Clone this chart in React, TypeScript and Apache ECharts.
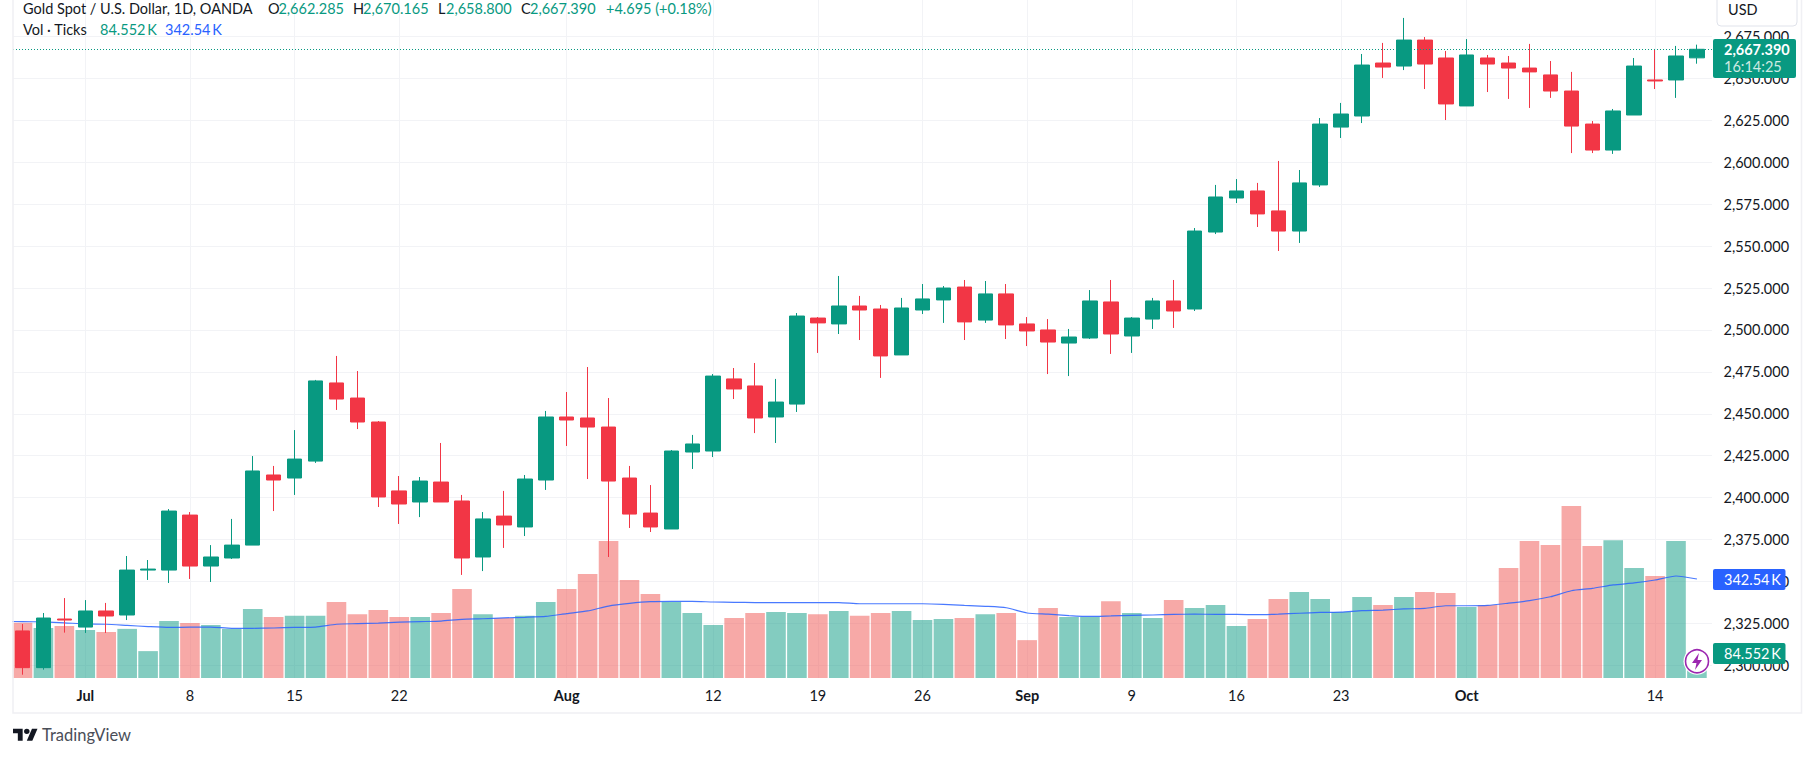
import { useEffect, useRef } from "react";
import * as echarts from "echarts";

const opens = [
  2320.5, 2298.6, 2327.6, 2322.8, 2332.4, 2330, 2356.8, 2356.8, 2389.6, 2359.2, 2364, 2371.7, 2413.5, 2411.7, 2421.8, 2468.4, 2459.4,
  2445.1, 2404, 2397.4, 2409.3, 2398, 2364.6, 2389, 2382.5, 2410.5, 2448.1, 2447.5, 2442.1, 2411.7, 2390.8, 2381.3, 2427.2, 2427.8,
  2470.8, 2466.6, 2448.1, 2455.8, 2507.1, 2503.6, 2514.3, 2512.5, 2485.1, 2511.9, 2517.9, 2525.6, 2505.9, 2521.5, 2503.6, 2500, 2492.2,
  2495.2, 2516.7, 2496.4, 2506.5, 2517.3, 2512.5, 2558.4, 2578.7, 2582.9, 2571, 2559, 2586.5, 2621, 2627.6, 2659.2, 2657.4, 2672.9,
  2662.2, 2633.6, 2662.2, 2659.2, 2656.2, 2652.1, 2642.5, 2622.8, 2607.3, 2628.2, 2649.1, 2649.1, 2662.285,
];
const closes = [
  2298.6, 2328.2, 2327, 2332.4, 2329.4, 2356.8, 2357.4, 2392, 2359.2, 2364.6, 2371.7, 2415.9, 2410.5, 2423, 2469.6, 2458.8, 2445.1,
  2400.4, 2396.2, 2409.9, 2397.4, 2364, 2387.3, 2383.7, 2411.1, 2448.1, 2446.3, 2442.1, 2409.9, 2390.2, 2382.5, 2427.8, 2432, 2472.5,
  2464.8, 2447.5, 2457, 2508.3, 2504.2, 2514.3, 2511.9, 2484.5, 2513.1, 2518.5, 2525, 2504.8, 2521.5, 2503, 2499.4, 2492.8, 2495.8,
  2517.3, 2497.6, 2507.1, 2517.3, 2511.3, 2559, 2579.3, 2582.9, 2569.2, 2559, 2587.7, 2622.8, 2628.8, 2658, 2656.8, 2672.9, 2658.6,
  2634.8, 2664, 2658.6, 2656.2, 2653.9, 2642.5, 2621.6, 2607.3, 2630.6, 2657.4, 2648.5, 2663.4, 2667.39,
];
const highs = [
  2324.6, 2331.2, 2340.1, 2338.9, 2337.2, 2365.2, 2362.8, 2393.2, 2391.4, 2371.7, 2387.3, 2424.8, 2418.9, 2440.3, 2470.2, 2484.5, 2475.5,
  2445.7, 2412.9, 2412.3, 2432.6, 2401.6, 2391.4, 2404, 2413.5, 2451.7, 2463, 2477.9, 2459.4, 2418.9, 2407.5, 2428.4, 2437.4, 2473.7,
  2477.3, 2480.3, 2470.8, 2510.1, 2507.7, 2532.2, 2520.3, 2514.9, 2519.1, 2527.4, 2526.2, 2529.8, 2529.2, 2527.4, 2507.7, 2506.5, 2500.6,
  2523.8, 2529.8, 2507.7, 2519.1, 2529.8, 2560.8, 2586.5, 2590, 2587.7, 2600.8, 2595.4, 2626.4, 2635.4, 2664.6, 2671.2, 2686.1, 2674.7,
  2666.4, 2673.5, 2664, 2663.4, 2670.6, 2660.4, 2653.9, 2624.6, 2631.8, 2662.2, 2667.6, 2669.4, 2670.165,
];
const lows = [
  2294.4, 2297.4, 2319.5, 2319.3, 2319.3, 2327, 2350.9, 2349.1, 2351.5, 2349.7, 2363.4, 2371.7, 2392, 2401.6, 2420.7, 2452.3, 2440.9,
  2394.4, 2384.3, 2388.4, 2397.4, 2353.9, 2356.2, 2370, 2377.1, 2404.6, 2430.8, 2411.1, 2364.6, 2381.9, 2379.5, 2381.3, 2417.1, 2424.2,
  2458.8, 2438.5, 2432.6, 2451.1, 2486.3, 2497.6, 2494, 2471.4, 2485.1, 2509.5, 2504.2, 2494, 2504.2, 2494.6, 2490.4, 2473.7, 2472.5,
  2494.6, 2485.7, 2486.3, 2500.6, 2501.2, 2511.3, 2557.2, 2575.7, 2561.4, 2547.1, 2551.9, 2585.3, 2614.5, 2623.4, 2650.3, 2655, 2643.7,
  2625.2, 2633.6, 2641.9, 2637.8, 2632.4, 2638.4, 2605.5, 2605.5, 2605, 2628.2, 2643.7, 2638.4, 2658.8,
];
const volumes = [
  191, 173, 180, 166, 159, 170, 93, 197, 190, 183, 170, 239, 211, 215, 215, 263, 221, 235, 211, 211, 225, 308, 221, 208, 215, 263, 308,
  360, 474, 339, 291, 263, 225, 183, 208, 225, 228, 225, 221, 232, 215, 225, 232, 201, 204, 208, 221, 225, 131, 242, 211, 211, 266, 225,
  208, 270, 242, 253, 180, 204, 273, 298, 273, 228, 280, 253, 280, 298, 294, 246, 253, 381, 474, 460, 595, 457, 477, 381, 353, 474, 84.552,
];
const volumeMa = [
  195, 194, 191, 187, 186, 182, 178, 175, 176, 176, 172, 172, 173, 175, 176, 186, 188, 190, 193, 195, 197, 203, 205, 208, 210, 213, 223,
  232, 249, 258, 264, 265, 265, 263, 262, 261, 261, 261, 261, 261, 257, 257, 257, 257, 255, 251, 248, 243, 225, 221, 216, 213, 215, 217,
  218, 220, 221, 220, 220, 219, 221, 224, 227, 228, 233, 235, 239, 241, 250, 250, 251, 259, 268, 281, 302, 310, 322, 329, 339, 353, 342.54,
];
// the average runs on from the bar before the first visible one
const volumeMaBefore = 196;
const priceTicks = [2300, 2325, 2350, 2375, 2400, 2425, 2450, 2475, 2500, 2525, 2550, 2575, 2600, 2625, 2650, 2675];
const dateTickIndexes = [3, 8, 13, 18, 26, 33, 38, 43, 48, 53, 58, 63, 69, 78];
const dateTickLabels = ["Jul", "8", "15", "22", "Aug", "12", "19", "26", "Sep", "9", "16", "23", "Oct", "14"];
const monthLabels = ["Jul", "Aug", "Sep", "Oct"];
const lastPrice = 2667.39;

const UP = "#089981";
const DOWN = "#f23645";
const UP_VOLUME = "rgba(8, 153, 129, 0.5)";
const DOWN_VOLUME = "rgba(239, 83, 80, 0.5)";
const BLUE = "#2962ff";
const INK = "#131722";
const GRID_LINE = "#f2f3f6";
const FRAME = "#f0f0f4";
const FONT = "Lato, 'Open Sans', sans-serif";
const FONT_SIZE = 14.5;

const LOGO_PATH =
  "M14 22H7V11H0V4h14v18zM28 22h-8l7.5-18h8L28 22zM24 8a4 4 0 1 1-8 0 4 4 0 0 1 8 0z";
const BOLT_PATH = "M7 0L0 10h4.5L3 17l7-10H5.5L7 0z";
echarts.graphic.registerShape("tvLogo", echarts.graphic.extendPath(LOGO_PATH, {}));
echarts.graphic.registerShape("bolt", echarts.graphic.extendPath(BOLT_PATH, {}));

function formatPrice(value: number): string {
  return value.toFixed(3).replace(/\B(?=(\d{3})(?!\d))/g, ",");
}

function label(text: string, x: number, y: number, fill: string, font: string = `${FONT_SIZE}px ${FONT}`) {
  return {
    type: "text",
    x,
    y,
    z: 110,
    style: { text, fill, font, textVerticalAlign: "middle" },
  };
}

function tag(x: number, y: number, width: number, height: number, fill: string) {
  return { type: "rect", z: 105, shape: { x, y, width, height, r: 2 }, style: { fill } };
}

export default function App() {
  const containerRef = useRef<HTMLDivElement | null>(null);

  useEffect(() => {
    if (!containerRef.current) {
      return;
    }

    const chart = echarts.init(containerRef.current, undefined, { renderer: "svg" });

    const option: echarts.EChartsOption = {
      animation: false,
      backgroundColor: "#ffffff",
      textStyle: { fontFamily: FONT },
      grid: { left: 13, top: 0, width: 1699, height: 678 },
      xAxis: {
        type: "value",
        min: -0.454,
        max: 80.72,
        axisLine: { show: false },
        axisTick: { show: false, customValues: dateTickIndexes },
        splitLine: { show: true, lineStyle: { color: GRID_LINE, width: 1 } },
        axisLabel: {
          customValues: dateTickIndexes,
          margin: 10,
          color: INK,
          fontSize: FONT_SIZE,
          fontFamily: FONT,
          formatter: (value: number) => {
            const text = dateTickLabels[dateTickIndexes.indexOf(value)];
            return monthLabels.includes(text) ? `{month|${text}}` : text;
          },
          rich: { month: { fontWeight: 700, fontSize: FONT_SIZE, fontFamily: FONT, color: INK } },
        },
      },
      yAxis: [
        {
          type: "value",
          position: "right",
          min: 2292.43,
          max: 2696.79,
          axisLine: { show: false },
          axisTick: { show: false, customValues: priceTicks },
          splitLine: { show: true, lineStyle: { color: GRID_LINE, width: 1 } },
          axisLabel: {
            customValues: priceTicks,
            margin: 11.5,
            color: INK,
            fontSize: FONT_SIZE,
            fontFamily: FONT,
            padding: [0, 0, 2, 0],
            formatter: (value: number) => formatPrice(value),
          },
        },
        { type: "value", min: 0, max: 2346, show: false, splitLine: { show: false } },
      ],
      series: [
        {
          name: "Vol",
          type: "bar",
          yAxisIndex: 1,
          z: 1,
          barWidth: 19.6,
          data: volumes.map((volume, index) => ({
            value: [index, volume],
            itemStyle: { color: closes[index] >= opens[index] ? UP_VOLUME : DOWN_VOLUME },
          })),
        },
        {
          name: "Volume MA",
          type: "line",
          yAxisIndex: 1,
          z: 2,
          smooth: 0.2,
          showSymbol: false,
          lineStyle: { color: BLUE, width: 1.2, opacity: 0.85 },
          data: [[-1, volumeMaBefore], ...volumeMa.map((value, index) => [index, value])],
        },
        {
          name: "XAUUSD",
          type: "candlestick",
          z: 3,
          barWidth: 15,
          itemStyle: { color: UP, color0: DOWN, borderColor: UP, borderColor0: DOWN, borderWidth: 1 },
          data: opens.map((open, index) => [index, open, closes[index], lows[index], highs[index]]),
          markLine: {
            silent: true,
            symbol: "none",
            label: { show: false },
            lineStyle: { color: UP, type: [1, 2], width: 1 },
            data: [{ yAxis: lastPrice }],
          },
        },
      ],
      graphic: [
        {
          type: "rect",
          z: 100,
          shape: { x: 13, y: -6, width: 1788.5, height: 719 },
          style: { fill: "none", stroke: FRAME, lineWidth: 1.6 },
        },
        label("Gold Spot / U.S. Dollar, 1D, OANDA", 23, 8, INK),
        label("O", 268, 8, INK),
        label("2,662.285", 278.4, 8, UP),
        label("H", 353, 8, INK),
        label("2,670.165", 363, 8, UP),
        label("L", 438, 8, INK),
        label("2,658.800", 446, 8, UP),
        label("C", 521, 8, INK),
        label("2,667.390", 530, 8, UP),
        label("+4.695 (+0.18%)", 606, 8, UP),
        label("Vol · Ticks", 23, 29, INK),
        label("84.552\u2009K", 100, 29, UP),
        label("342.54\u2009K", 165, 29, BLUE),

        {
          type: "rect",
          z: 105,
          shape: { x: 1717, y: -6, width: 80, height: 32, r: 4 },
          style: { fill: "#ffffff", stroke: "#e0e3eb", lineWidth: 1 },
        },
        label("USD", 1728, 9.5, INK),

        tag(1713, 39, 83, 39, UP),
        label("2,667.390", 1724, 49, "#ffffff", `700 ${FONT_SIZE}px ${FONT}`),
        label("16:14:25", 1724, 66, "#cfeae4"),
        tag(1713, 569, 72.5, 21, BLUE),
        label("342.54\u2009K", 1724, 579.5, "#ffffff"),
        tag(1713, 643, 72.5, 21, UP),
        label("84.552\u2009K", 1724, 653.5, "#ffffff"),

        { type: "circle", z: 106, shape: { cx: 1697, cy: 661.3, r: 13.5 }, style: { fill: "#ffffff" } },
        {
          type: "circle",
          z: 107,
          shape: { cx: 1697, cy: 661.3, r: 11.5 },
          style: { fill: "#ffffff", stroke: "#9c27b0", lineWidth: 1.6 },
        },
        { type: "bolt", z: 108, x: 1692, y: 653, style: { fill: "#9c27b0" } },

        { type: "tvLogo", z: 110, x: 13, y: 726, scaleX: 0.69, scaleY: 0.67, style: { fill: INK } },
        label("TradingView", 42, 734.5, "#4a4e58", `16.5px ${FONT}`),
      ],
    } as echarts.EChartsOption;

    chart.setOption(option);

    return () => {
      chart.dispose();
    };
  }, []);

  return <div ref={containerRef} style={{ position: "absolute", left: 0, top: 0, width: 1815, height: 757 }} />;
}
